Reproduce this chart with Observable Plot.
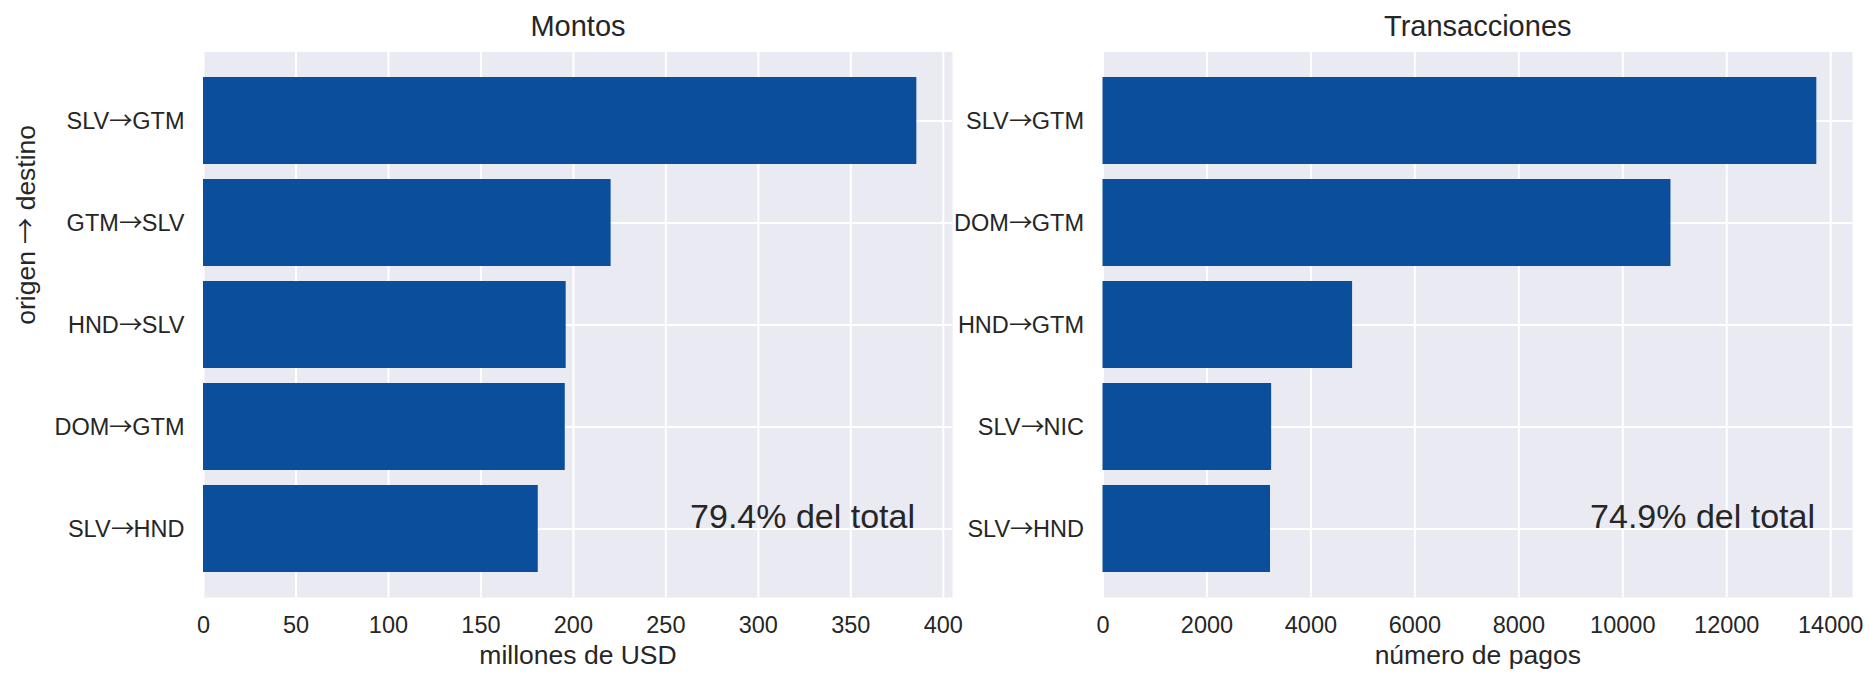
<!DOCTYPE html>
<html>
<head>
<meta charset="utf-8">
<script src="https://cdn.jsdelivr.net/npm/d3@7"></script>
<script src="https://cdn.jsdelivr.net/npm/@observablehq/plot@0.6"></script>
<style>
  @font-face {
    font-family: "ArrowFont";
    src: local("Noto Sans CJK JP"), local("Noto Sans CJK JP Regular"), local("NotoSansCJKjp-Regular"), local("DejaVu Sans");
    unicode-range: U+2192;
  }
  html, body { margin: 0; padding: 0; background: white; }
  #wrap { display: flex; flex-direction: row; width: 1869px; height: 673px; }
  svg { display: block; overflow: visible; }
</style>
</head>
<body>
<div id="wrap"></div>
<script>
// ---- data ----
const montosRutas = ["SLV→GTM", "GTM→SLV", "HND→SLV", "DOM→GTM", "SLV→HND"];
const montosValores = [385.7, 220.4, 196.1, 195.6, 181.0];
const montosTicks = [0, 50, 100, 150, 200, 250, 300, 350, 400];

const transRutas = ["SLV→GTM", "DOM→GTM", "HND→GTM", "SLV→NIC", "SLV→HND"];
const transValores = [13733, 10927, 4802, 3244, 3223];
const transTicks = [0, 2000, 4000, 6000, 8000, 10000, 12000, 14000];

const titulos = ["Montos", "Transacciones"];
const xLabels = ["millones de USD", "número de pagos"];
const yLabel = "origen → destino";
const notas = ["79.4% del total", "74.9% del total"];

// ---- style ----
const BAR = "#0b4f9c";
const BG = "#eaeaf2";
const INK = "#262626";
const FONT = "ArrowFont, 'Liberation Sans', Arial, Helvetica, sans-serif";

function panel({rutas, valores, ticks, title, xlabel, nota, width, marginLeft, marginRight, ylab}) {
  const data = rutas.map((r, i) => ({ruta: r, valor: valores[i]}));
  const maxV = d3.max(valores);
  const marks = [
    Plot.frame({fill: BG, stroke: null}),
    Plot.gridX(ticks, {stroke: "white", strokeOpacity: 1, strokeWidth: 2}),
    Plot.gridY(rutas, {stroke: "white", strokeOpacity: 1, strokeWidth: 2}),
    Plot.barX(data, {y: "ruta", x: "valor", fill: BAR}),
    Plot.axisX({ticks, tickSize: 0, tickPadding: 19, tickFormat: d => String(d), label: null, fontSize: 23.5, fill: INK}),
    Plot.axisY({tickSize: 0, tickPadding: 19, label: null, fontSize: 23.5, fill: INK}),
    Plot.text([title], {text: d => d, frameAnchor: "top", lineAnchor: "middle", dy: -25.5, fontSize: 29, fill: INK}),
    Plot.text([xlabel], {text: d => d, frameAnchor: "bottom", lineAnchor: "middle", dy: 58, fontSize: 26.5, fill: INK}),
    Plot.text([nota], {text: d => d, frameAnchor: "bottom-right", lineAnchor: "middle", textAnchor: "end", dx: -37.5, dy: -80, fontSize: 34, fill: INK})
  ];
  if (ylab) {
    marks.push(Plot.text([ylab], {text: d => d, frameAnchor: "left", lineAnchor: "middle", dx: -(marginLeft - 26), rotate: -90, fontSize: 26.5, fill: INK}));
  }
  return Plot.plot({
    width,
    height: 673,
    marginTop: 51.5,
    marginBottom: 76,
    marginLeft,
    marginRight,
    style: {background: "transparent", fontFamily: FONT, fontSize: "23.5px", color: INK, overflow: "visible"},
    x: {domain: [0, maxV * 1.05], ticks, label: null, axis: null},
    y: {domain: rutas, paddingInner: 0.15, paddingOuter: 0.2425, label: null, axis: null},
    marks
  });
}

const wrap = document.getElementById("wrap");
wrap.appendChild(panel({
  rutas: montosRutas, valores: montosValores, ticks: montosTicks,
  title: titulos[0], xlabel: xLabels[0], nota: notas[0],
  width: 960, marginLeft: 203, marginRight: 8, ylab: yLabel
}));
wrap.appendChild(panel({
  rutas: transRutas, valores: transValores, ticks: transTicks,
  title: titulos[1], xlabel: xLabels[1], nota: notas[1],
  width: 909, marginLeft: 142.5, marginRight: 17
}));
</script>
</body>
</html>
